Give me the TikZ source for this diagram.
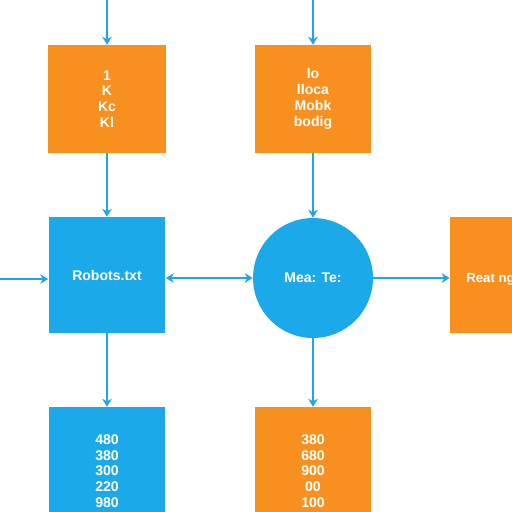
\documentclass[tikz,border=0pt]{standalone}
\usepackage{fontspec}
\setmainfont{Liberation Sans}
\usetikzlibrary{arrows.meta}
\usetikzlibrary{positioning,shapes}

\definecolor{boxorange}{HTML}{F7901E}
\definecolor{boxblue}{HTML}{1CA9EA}
\definecolor{arrowblue}{HTML}{1FA7E3}

\tikzset{
  obox/.style={rectangle,fill=boxorange,inner sep=0pt,align=center,
    text=white,font=\bfseries\fontsize{8}{9}\selectfont},
  bbox/.style={rectangle,fill=boxblue,inner sep=0pt,align=center,
    text=white,font=\bfseries\fontsize{8}{9}\selectfont},
  conn/.style={draw=arrowblue,line width=1.1pt},
}

\begin{document}
\begin{tikzpicture}[x=0.02cm,y=-0.02cm]
		\useasboundingbox (0,0) rectangle (512,512);
		\fill[white] (0,0) rectangle (512,512);
		\clip (0,0) rectangle (512,512);

		% top row
		\node[obox,minimum width=2.36cm,minimum height=2.16cm] (keys) at (107,99) {1\\K\\Kc\\Kl};
		\node[obox,minimum width=2.34cm,minimum height=2.16cm] (mobk) at (313,99) {lo\\lloca\\Mobk\\bodig};

		% middle row
		\node[bbox,minimum width=2.34cm,minimum height=2.32cm] (robots) at (107,275) {Robots.txt};
		\node[circle,fill=boxblue,inner sep=0pt,minimum size=2.4cm,text=white,
			font=\bfseries\fontsize{8}{9}\selectfont] (meta) at (313,278) {Mea: Te:};
		\node[obox,minimum width=2.4cm,minimum height=2.32cm] (real) at (510,275) {};
		\node[text=white,font=\bfseries\fontsize{7.5}{9}\selectfont,anchor=west,inner sep=0pt] (realtxt) at (466,279) {Reat ng};

		% bottom row
		\node[bbox,minimum width=2.34cm,minimum height=2.56cm] (nums) at (107,471) {480\\380\\300\\220\\980};
		\node[obox,minimum width=2.34cm,minimum height=2.56cm] (vals) at (313,471) {380\\680\\900\\00\\100};

		% free ends
		\coordinate (keysin) at (107,0);
		\coordinate (mobkin) at (313,0);
		\coordinate (robin) at (0,279);

		\begin{scope}[>={Stealth[length=4.5pt,width=5.5pt]},every edge/.style={conn}]
			\path (keysin) edge[->] (keys);
			\path (mobkin) edge[->] (mobk.north);
			\path (keys) edge[->] (robots);
			\path (mobk.south) edge[->] (meta);
			\path (robin) edge[->] (robin -| robots.west);
			\path (robots.east |- meta) edge[<->] (meta.west);
			\path (meta.east) edge[->] (meta.east -| real.west);
			\path (robots) edge[->] (nums);
			\path (meta) edge[->] (vals.north -| meta);
		\end{scope}
	\end{tikzpicture}
\end{document}
